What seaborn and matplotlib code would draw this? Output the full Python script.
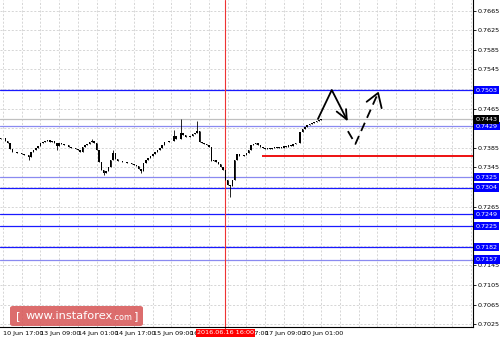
import numpy as np
import pandas as pd
import matplotlib
matplotlib.use("Agg")
import matplotlib.pyplot as plt
import matplotlib.transforms as mtransforms
from matplotlib.patches import FancyBboxPatch
import seaborn as sns

# ---------------- data ----------------
first_open = 0.7403
closes = [0.7405, 0.7405, 0.7399, 0.7395, 0.7383, 0.7376, 0.7376, 0.7374, 0.7374, 0.7372,
          0.7370, 0.7370, 0.7366, 0.7376, 0.7381, 0.7385, 0.7389, 0.7395, 0.7397, 0.7399,
          0.7401, 0.7397, 0.7399, 0.7395, 0.7389, 0.7395, 0.7393, 0.7391, 0.7391, 0.7387,
          0.7385, 0.7385, 0.7383, 0.7381, 0.7376, 0.7387, 0.7391, 0.7393, 0.7397, 0.7399,
          0.7395, 0.7381, 0.7356, 0.7340, 0.7334, 0.7338, 0.7346, 0.7360, 0.7374, 0.7362,
          0.7358, 0.7358, 0.7356, 0.7356, 0.7354, 0.7354, 0.7352, 0.7350, 0.7348, 0.7342,
          0.7338, 0.7354, 0.7360, 0.7364, 0.7368, 0.7372, 0.7376, 0.7381, 0.7385, 0.7391,
          0.7397, 0.7397, 0.7399, 0.7399, 0.7409, 0.7403, 0.7403, 0.7415, 0.7411, 0.7407,
          0.7407, 0.7409, 0.7413, 0.7415, 0.7419, 0.7397, 0.7395, 0.7393, 0.7391, 0.7387,
          0.7358, 0.7360, 0.7356, 0.7352, 0.7346, 0.7340, 0.7319, 0.7309, 0.7307, 0.7319,
          0.7360, 0.7372, 0.7368, 0.7368, 0.7370, 0.7374, 0.7381, 0.7391, 0.7393, 0.7395,
          0.7391, 0.7387, 0.7385, 0.7383, 0.7385, 0.7383, 0.7385, 0.7387, 0.7385, 0.7387,
          0.7385, 0.7389, 0.7387, 0.7391, 0.7389, 0.7393, 0.7395, 0.7395, 0.7417, 0.7423,
          0.7428, 0.7432, 0.7434, 0.7436, 0.7438, 0.7440, 0.7442, 0.7443]
first_bar = -1
spike_high_idx = [38, 47, 73, 76, 83]
spike_high_val = [0.7403, 0.7381, 0.7421, 0.7444, 0.7440]
spike_low_idx = [11, 23, 43, 59, 97]
spike_low_val = [0.7360, 0.7381, 0.7330, 0.7334, 0.7285]

tick_bars = [0, 16, 32, 48, 64, 80, 96, 112, 128]
tick_labels = ["10 Jun 17:00", "13 Jun 09:00", "14 Jun 01:00", "14 Jun 17:00",
               "15 Jun 09:00", "16 Jun 01:00", "16 Jun 17:00", "17 Jun 09:00",
               "20 Jun 01:00"]

levels_dark = [0.7503, 0.7304, 0.7249, 0.7225, 0.7182]
levels_light = [0.7429, 0.7325, 0.7157]
current_price = 0.7443
red_level = 0.7369
red_level_start = 110.5
marker_bar = 95
marker_label = "2016.06.16 16:00"

# forecast sketch (bar, price)
solid_x = [134.6, 140.5, 146.9]
solid_y = [0.7444, 0.7503, 0.7443]
solid_head_x = [142.6, 146.9, 146.6]
solid_head_y = [0.7459, 0.7443, 0.7464]
dash_x = [147.4, 150.6, 160.3]
dash_y = [0.7419, 0.7393, 0.7497]
dash_head_x = [155.4, 160.3, 161.8]
dash_head_y = [0.7479, 0.7497, 0.7466]

# ---------------- build table ----------------
n = len(closes)
bars = np.arange(first_bar, first_bar + n)
opens = [first_open] + closes[:-1]
df = pd.DataFrame({"bar": bars, "open": opens, "close": closes})
df["high"] = df[["open", "close"]].max(axis=1)
df["low"] = df[["open", "close"]].min(axis=1)
for i, v in zip(spike_high_idx, spike_high_val):
    df.loc[df.bar == i, "high"] = max(v, float(df.loc[df.bar == i, "high"].iloc[0]))
for i, v in zip(spike_low_idx, spike_low_val):
    df.loc[df.bar == i, "low"] = min(v, float(df.loc[df.bar == i, "low"].iloc[0]))

# ---------------- figure ----------------
sns.set_theme(style="white")
plt.rcParams['font.family'] = ['DejaVu Sans']
W, H = 500, 337
fig = plt.figure(figsize=(W / 100, H / 100), dpi=100)
fig.patch.set_facecolor("white")
ax = fig.add_axes([0, 10 / H, 473 / W, 327 / H])
ax.set_facecolor("white")

ax.set_xlim(-1.28, 200.85)
ax.set_ylim(0.70193, 0.76867)

# grid
yt = np.round(np.arange(0.7025, 0.7666, 0.004), 4)
grid_kw = dict(color="#d0d0d0", lw=0.6, linestyle=(0, (2.5, 2)), zorder=0)
for v in yt:
    ax.axhline(v, **grid_kw)
for b in np.arange(0, 201, 8):
    ax.axvline(b, **grid_kw)

# levels
for v in levels_light:
    ax.axhline(v, color="#8a8af0", lw=0.9, zorder=1)
ax.axhline(current_price, color="#c0c0c0", lw=0.9, zorder=1)
for v in levels_dark:
    ax.axhline(v, color="#1a1aff", lw=0.9, zorder=1)
ax.hlines(red_level, red_level_start, 200.85, color="#ee1111", lw=1.4, zorder=2)
ax.axvline(marker_bar, ymin=-0.03, ymax=1, color="#ee3333", lw=0.8, zorder=1,
           clip_on=False)

# candles
ax.vlines(df.bar, df.low, df.high, color="black", lw=0.6, zorder=3)
body_h = (df.close - df.open).where((df.close - df.open).abs() > 0.00005, 0.00005)
ax.bar(df.bar, body_h, bottom=df.open, width=0.65, color="black", lw=0, zorder=3)

# forecast sketch
sns.lineplot(x=solid_x, y=solid_y, ax=ax, color="black", lw=1.3, sort=False,
             estimator=None, zorder=4)
ax.plot(solid_head_x, solid_head_y, color="black", lw=1.3, zorder=4)
ax.plot(dash_x, dash_y, color="black", lw=1.3, zorder=4, linestyle=(0, (5, 3)))
ax.plot(dash_head_x, dash_head_y, color="black", lw=1.3, zorder=4)

# spines
for s in ["top", "left"]:
    ax.spines[s].set_visible(False)
for s in ["right", "bottom"]:
    ax.spines[s].set_color("black")
    ax.spines[s].set_linewidth(0.8)

# y axis on the right (labels hidden where a level box covers them)
boxed = levels_dark + levels_light + [current_price]
ax.yaxis.tick_right()
ax.set_yticks(yt)
ax.set_yticklabels([("" if min(abs(v - b) for b in boxed) < 0.0010 else f"{v:.4f}")
                    for v in yt])
ax.tick_params(axis="y", which="major", direction="out", length=2, width=0.6,
               pad=1.5, labelsize=4.6, colors="black")
ax.tick_params(axis="x", which="major", direction="out", length=2, width=0.6,
               pad=1.0, labelsize=4.6, colors="black")
ax.set_xticks(tick_bars)
ax.set_xticklabels(tick_labels)
for lab in ax.get_xticklabels():
    lab.set_horizontalalignment("left")
ax.set_xlabel("")
ax.set_ylabel("")

# level label boxes
trans_y = mtransforms.blended_transform_factory(ax.transAxes, ax.transData)
for v in levels_dark + levels_light:
    ax.text(1.006, v, f"{v:.4f}", transform=trans_y, ha="left", va="center",
            fontsize=4.6, color="white", zorder=10, clip_on=False,
            bbox=dict(boxstyle="square,pad=0.25", fc="#0000ff", ec="none"))
ax.text(1.006, current_price, f"{current_price:.4f}", transform=trans_y, ha="left",
        va="center", fontsize=4.6, color="white", zorder=11, clip_on=False,
        bbox=dict(boxstyle="square,pad=0.25", fc="#000000", ec="none"))

# date marker box
trans_x = mtransforms.blended_transform_factory(ax.transData, ax.transAxes)
ax.text(marker_bar, -0.0175, marker_label, transform=trans_x, ha="center",
        va="center", fontsize=4.6, color="white", zorder=12, clip_on=False,
        bbox=dict(boxstyle="square,pad=0.2", fc="#ff0000", ec="none"))

# watermark
box = FancyBboxPatch((10 / W, 11 / H), 133 / W, 20 / H,
                     boxstyle="round,pad=0,rounding_size=0.006",
                     transform=fig.transFigure, fc=(0.84, 0.33, 0.33), ec="none",
                     alpha=0.85, zorder=20)
fig.patches.append(box)
fig.text(16 / W, 21 / H, "[", color="white", fontsize=8.2, ha="left", va="center",
         zorder=21)
fig.text(26 / W, 21 / H, "www.instaforex", color="white", fontsize=8.2, ha="left",
         va="center", zorder=21)
fig.text(112.5 / W, 20 / H, ".com", color="white", fontsize=5.8, ha="left",
         va="center", zorder=21)
fig.text(134 / W, 21 / H, "]", color="white", fontsize=8.2, ha="left", va="center",
         zorder=21)

fig.savefig("out.png", dpi=100, facecolor="white")
